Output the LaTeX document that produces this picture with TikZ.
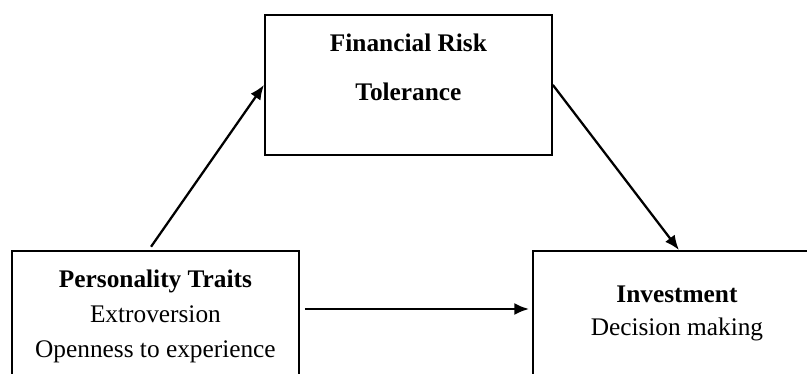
\documentclass[tikz,border=0pt]{standalone}
\usepackage{fontspec}
\setmainfont{Liberation Serif}
\usetikzlibrary{arrows.meta}
\begin{document}
\begin{tikzpicture}[x=0.75pt,y=-0.75pt]
    \tikzstyle{box}=[draw=black,line width=1.4pt,inner sep=0pt,anchor=north west]
    \tikzstyle{txt}=[anchor=base,inner sep=0pt,font=\fontsize{19}{22}\selectfont]
    \tikzstyle{arr}=[-{Latex[length=11pt,width=9pt]},line width=1.7pt]
    \clip (0,0) rectangle (807,374);

    \node[box,minimum width=215.25pt,minimum height=105pt] (frt) at (264,14) {};
    \node[box,minimum width=215.25pt,minimum height=127.5pt] (pt) at (11,250) {};
    \node[box,minimum width=219pt,minimum height=127.5pt] (inv) at (532,250) {};

    \node[txt,font=\fontsize{19}{22}\selectfont\bfseries] (frt1) at ([shift={(0,38)}]frt.north) {Financial Risk};
    \node[txt,font=\fontsize{19}{22}\selectfont\bfseries] (frt2) at ([shift={(0,87)}]frt.north) {Tolerance};

    \node[txt,font=\fontsize{19}{22}\selectfont\bfseries] (pt1) at ([shift={(0,37)}]pt.north) {Personality Traits};
    \node[txt] (pt2) at ([shift={(0,72)}]pt.north) {Extroversion};
    \node[txt] (pt3) at ([shift={(0,107)}]pt.north) {Openness to experience};

    \node[txt,font=\fontsize{19}{22}\selectfont\bfseries] (inv1) at ([shift={(-2,52)}]inv.north) {Investment};
    \node[txt] (inv2) at ([shift={(-2,85)}]inv.north) {Decision making};

    \draw[arr,shorten <=3pt] ([xshift=-5pt]pt.north) -- (frt.west);
    \draw[arr] (frt.east) -- (inv.north);
    \draw[arr] ([shift={(5,59)}]pt.north east) -- ([shift={(-3,59)}]inv.north west);
\end{tikzpicture}
\end{document}
